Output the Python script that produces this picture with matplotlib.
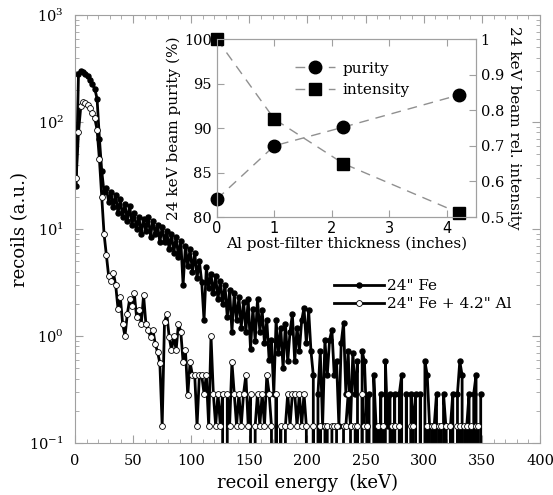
import numpy as np
import matplotlib
matplotlib.use('Agg')
import matplotlib.pyplot as plt
from matplotlib.ticker import MultipleLocator, LogLocator, NullFormatter

plt.rcParams['font.family'] = ['DejaVu Serif']

# recoil spectra, 2 keV bins (centres 1..349 keV)
energy = np.arange(1, 350, 2)

fe_only = [
    25, 280, 300, 295, 280, 268, 245, 225, 205, 165,
    70, 35, 22, 24, 18, 22, 16, 21, 14, 19,
    13, 17, 12, 16.5, 11, 14, 10, 13, 9, 12.5,
    9.5, 13, 8.5, 12, 9, 11, 7.5, 10.5, 7.5, 9.5,
    6.5, 9, 6, 8.5, 5.5, 7.8, 3.0, 7, 4.5, 6.5,
    4, 6, 3.5, 5, 3.2, 1.4, 4.4, 2.8, 3.8, 2.5,
    3.6, 2.2, 3.3, 2.0, 3.0, 1.5, 2.7, 1.1, 2.5, 1.4,
    2.3, 1.2, 2.1, 1.1, 2.2, 0.75, 1.8, 0.9, 2.2, 1.1,
    1.74, 0.86, 1.4, 0.6, 0.92, 0.29, 1.4, 0.7, 1.2, 0.5,
    1.3, 0.58, 1.1, 1.6, 0.58, 1.2, 0.72, 1.4, 1.83, 0.86,
    1.74, 0.72, 0.43, 0.0, 0.29, 0.72, 0.145, 0.92, 0.43, 0.92,
    1.14, 0.43, 0.58, 0.145, 0.86, 1.33, 0.29, 0.72, 0.145, 0.7,
    0.29, 0.58, 0.0, 0.72, 0.58, 0.145, 0.29, 0.0, 0.43, 0.145,
    0.0, 0.29, 0.0, 0.58, 0.145, 0.29, 0.0, 0.29, 0.0, 0.29,
    0.43, 0.0, 0.29, 0.0, 0.29, 0.145, 0.29, 0.0, 0.29, 0.0,
    0.58, 0.43, 0.145, 0.0, 0.145, 0.29, 0.0, 0.0, 0.29, 0.145,
    0.0, 0.145, 0.29, 0.0, 0.29, 0.58, 0.43, 0.0, 0.145, 0.29,
    0.0, 0.29, 0.43, 0.0, 0.29,
]

fe_al = [
    30, 80, 140, 155, 150, 145, 135, 122, 108, 85,
    45, 20, 9, 5.7, 3.6, 3.3, 3.9, 3.0, 1.8, 2.3,
    1.3, 1.0, 1.6, 2.2, 1.9, 2.5, 1.5, 1.75, 1.3, 2.4,
    1.3, 1.14, 0.98, 1.14, 0.85, 0.71, 0.56, 0.145, 1.35, 1.6,
    0.98, 0.74, 1.0, 0.74, 1.3, 1.1, 0.57, 0.74, 0.28, 0.57,
    0.43, 0.43, 0.145, 0.43, 0.43, 0.29, 0.43, 0.145, 1.0, 0.29,
    0.145, 0.29, 0.145, 0.29, 0.0, 0.29, 0.145, 0.57, 0.29, 0.145,
    0.29, 0.145, 0.29, 0.43, 0.145, 0.29, 0.0, 0.145, 0.29, 0.145,
    0.29, 0.145, 0.43, 0.29, 0.145, 0.0, 0.29, 0.0, 0.145, 0.0,
    0.145, 0.29, 0.145, 0.29, 0.29, 0.145, 0.29, 0.145, 0.29, 0.145,
    0.0, 0.0, 0.145, 0.0, 0.0, 0.145, 0.0, 0.145, 0.145, 0.0,
    0.145, 0.145, 0.145, 0.0, 0.0, 0.145, 0.145, 0.29, 0.145, 0.0,
    0.145, 0.145, 0.0, 0.29, 0.145, 0.145, 0.0, 0.0, 0.0, 0.0,
    0.145, 0.0, 0.145, 0.0, 0.0, 0.0, 0.145, 0.145, 0.0, 0.145,
    0.0, 0.0, 0.0, 0.0, 0.145, 0.145, 0.0, 0.0, 0.0, 0.0,
    0.0, 0.145, 0.0, 0.145, 0.145, 0.0, 0.145, 0.145, 0.0, 0.145,
    0.0, 0.145, 0.0, 0.0, 0.145, 0.145, 0.0, 0.145, 0.145, 0.0,
    0.145, 0.0, 0.145, 0.145, 0.0,
]

# Al post-filter study
thickness = [0, 1, 2.2, 4.2]
purity = [82, 88, 90.1, 93.7]
intensity = [1.0, 0.775, 0.65, 0.512]

frame = '#a0a0a0'

fig = plt.figure(figsize=(5.53, 4.95), dpi=100)
ax = fig.add_axes([0.1356, 0.105, 0.8409, 0.8647])

ax.plot(energy, fe_only, color='black', lw=2.0, marker='o', ms=3.6,
        mfc='black', mec='black', label='24" Fe')
ax.plot(energy, fe_al, color='black', lw=2.0, marker='o', ms=4.2,
        mfc='white', mec='black', mew=0.6, label='24" Fe + 4.2" Al')

ax.set_yscale('log')
ax.set_xlim(0, 400)
ax.set_ylim(0.1, 1000)
ax.xaxis.set_major_locator(MultipleLocator(50))
ax.xaxis.set_minor_locator(MultipleLocator(10))
ax.yaxis.set_major_locator(LogLocator(base=10))
ax.yaxis.set_minor_locator(LogLocator(base=10, subs=np.arange(2, 10)))
ax.yaxis.set_minor_formatter(NullFormatter())
for s in ax.spines.values():
    s.set_color(frame)
ax.tick_params(which='both', direction='in', top=True, right=True, color=frame)
ax.tick_params(which='major', length=6, labelsize=10.5)
ax.tick_params(which='minor', length=3)
ax.tick_params(axis='x', pad=8)
ax.tick_params(axis='y', pad=8)
ax.set_xlabel('recoil energy  (keV)', fontsize=13, labelpad=4)
ax.set_ylabel('recoils (a.u.)', fontsize=13, labelpad=0)
ax.legend(loc='upper left', bbox_to_anchor=(0.54, 0.40), frameon=False,
          fontsize=11, handlelength=3.3, handletextpad=0.2, borderpad=0,
          labelspacing=0.25)

# inset: purity and relative intensity vs filter thickness
ins = fig.add_axes([0.392, 0.5616, 0.4684, 0.3596])
ins2 = ins.twinx()
dash = dict(color='#909090', lw=1.0, dashes=(7, 5))
l1, = ins.plot(thickness, purity, marker='o', ms=9, mfc='black', mec='black',
               clip_on=False, **dash)
l2, = ins2.plot(thickness, intensity, marker='s', ms=9, mfc='black', mec='black',
                clip_on=False, **dash)
ins.set_xlim(0, 4.5)
ins.set_ylim(80, 100)
ins2.set_ylim(0.5, 1.0)
ins.xaxis.set_major_locator(MultipleLocator(1))
ins.yaxis.set_major_locator(MultipleLocator(5))
ins2.set_yticks([0.5, 0.6, 0.7, 0.8, 0.9, 1.0])
ins2.set_yticklabels(['0.5', '0.6', '0.7', '0.8', '0.9', '1'])
for a in (ins, ins2):
    for s in a.spines.values():
        s.set_color(frame)
    a.tick_params(direction='in', color=frame, length=5, labelsize=10.5)
ins.tick_params(axis='x', top=True, pad=3)
for t in ins.get_xticklabels():
    t.set_family('DejaVu Sans')
ins.set_xlabel('Al post-filter thickness (inches)', fontsize=11, labelpad=0)
ins.set_ylabel('24 keV beam purity (%)', fontsize=11, labelpad=2)
ins2.set_ylabel('24 keV beam rel. intensity', fontsize=11, rotation=270,
                labelpad=12)
ins.legend([l1, l2], ['purity', 'intensity'], loc='upper left',
           bbox_to_anchor=(0.25, 0.95), frameon=False, fontsize=11,
           handlelength=2.6, handletextpad=0.5, labelspacing=0.5)

fig.savefig('out.png', dpi=100)
